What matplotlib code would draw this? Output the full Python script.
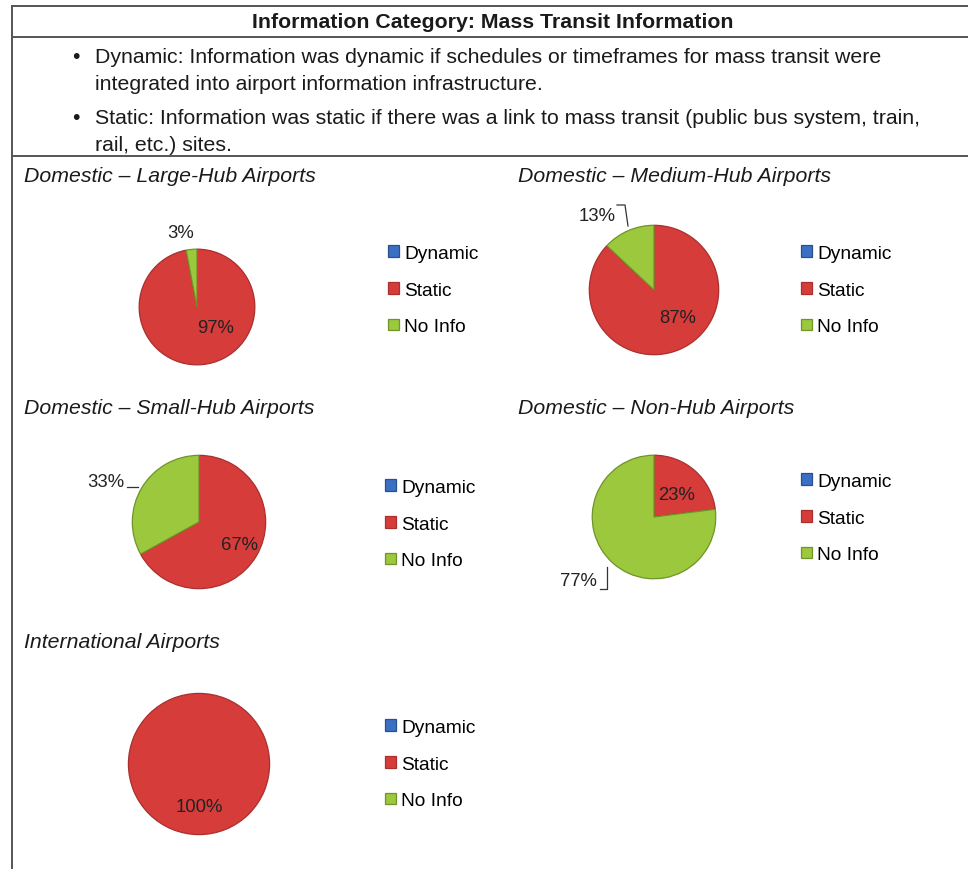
import matplotlib.pyplot as plt

plt.rcParams['font.family'] = ['Liberation Sans', 'DejaVu Sans']

W, H = 968, 870

title = "Information Category: Mass Transit Information"
bullets = [
    ["Dynamic: Information was dynamic if schedules or timeframes for mass transit were",
     "integrated into airport information infrastructure."],
    ["Static: Information was static if there was a link to mass transit (public bus system, train,",
     "rail, etc.) sites."],
]

categories = ["Dynamic", "Static", "No Info"]
colors = ["#3b6fc4", "#d63c3a", "#9bc83c"]
edges = ["#2a4f8f", "#a8302e", "#6f9428"]

groups = ["Domestic \u2013 Large-Hub Airports", "Domestic \u2013 Medium-Hub Airports",
          "Domestic \u2013 Small-Hub Airports", "Domestic \u2013 Non-Hub Airports",
          "International Airports"]
dynamic = [0, 0, 0, 0, 0]
static = [97, 87, 67, 23, 100]
no_info = [3, 13, 33, 77, 0]

# layout in pixels: heading pos, pie centre/radius, legend pos,
# label offsets (in pie radii) for static / no info
layout = [
    dict(head=(24, 177), pie=(197, 308, 59), leg=(388, 246),
         lab={1: (0.32, -0.35), 2: (-0.28, 1.28)}),
    dict(head=(518, 177), pie=(654, 291, 66), leg=(801, 246),
         lab={1: (0.36, -0.42), 2: (-0.88, 1.15)}),
    dict(head=(24, 409), pie=(199, 523, 68), leg=(385, 480),
         lab={1: (0.60, -0.33), 2: (-1.40, 0.61)}),
    dict(head=(518, 409), pie=(654, 518, 63), leg=(801, 474),
         lab={1: (0.37, 0.37), 2: (-1.22, -1.03)}),
    dict(head=(24, 643), pie=(199, 765, 72), leg=(385, 720),
         lab={1: (0.0, -0.60)}),
]
# leader lines from label to slice, pixel coords
leaders = {
    1: [(617, 206), (625, 206), (628, 227)],
    2: [(127, 488), (138, 488)],
    3: [(600, 590), (607, 590), (607, 568)],
}

fig = plt.figure(figsize=(W / 100, H / 100), dpi=100)
bg = fig.add_axes([0, 0, 1, 1])
bg.set_xlim(0, W)
bg.set_ylim(H, 0)
bg.axis('off')

tc = '#1a1a1a'
fs = 15.3

# table frame
lc = '#555555'
for y in (7, 38, 157):
    bg.plot([12, W], [y, y], color=lc, lw=1.4)
bg.plot([12, 12], [7, H], color=lc, lw=1.4)

bg.text(493, 23, title, ha='center', va='center', fontsize=fs,
        fontweight='bold', color=tc)
y = 57.5
for b in bullets:
    bg.text(76, y, "\u2022", ha='center', va='center', fontsize=fs, color=tc)
    for line in b:
        bg.text(95, y, line, ha='left', va='center', fontsize=fs, color=tc)
        y += 27
    y += 7

for i, g in enumerate(groups):
    L = layout[i]
    bg.text(L['head'][0], L['head'][1], g, ha='left', va='center', fontsize=fs,
            style='italic', color=tc)

    cx, cy, r = L['pie']
    ax = fig.add_axes([(cx - r) / W, 1 - (cy + r) / H, 2 * r / W, 2 * r / H])
    vals = [dynamic[i], static[i], no_info[i]]
    wedges, _ = ax.pie(vals, colors=colors, startangle=90, counterclock=False,
                       radius=1.0, wedgeprops=dict(linewidth=0.9))
    for w, ec in zip(wedges, edges):
        w.set_edgecolor(ec)
    ax.set_xlim(-1.02, 1.02)
    ax.set_ylim(-1.02, 1.02)
    ax.set_aspect('auto')
    for k, (dx, dy) in L['lab'].items():
        ax.text(dx, dy, f"{vals[k]}%", ha='center', va='center', fontsize=13.3,
                color='#222222', clip_on=False)

    ax.legend(wedges, categories, loc='upper left', bbox_to_anchor=L['leg'],
              bbox_transform=bg.transData, frameon=False, fontsize=13.8,
              handlelength=0.55, handleheight=0.55, handletextpad=0.3,
              labelspacing=1.03, borderpad=0, borderaxespad=0)
    # empty slices would otherwise leave a stray radius line
    for w, v in zip(wedges, vals):
        if v == 0:
            w.set_linewidth(0)

for pts in leaders.values():
    xs, ys = zip(*pts)
    bg.plot(xs, ys, color='#333333', lw=0.9)

fig.savefig("out.png", dpi=100)
